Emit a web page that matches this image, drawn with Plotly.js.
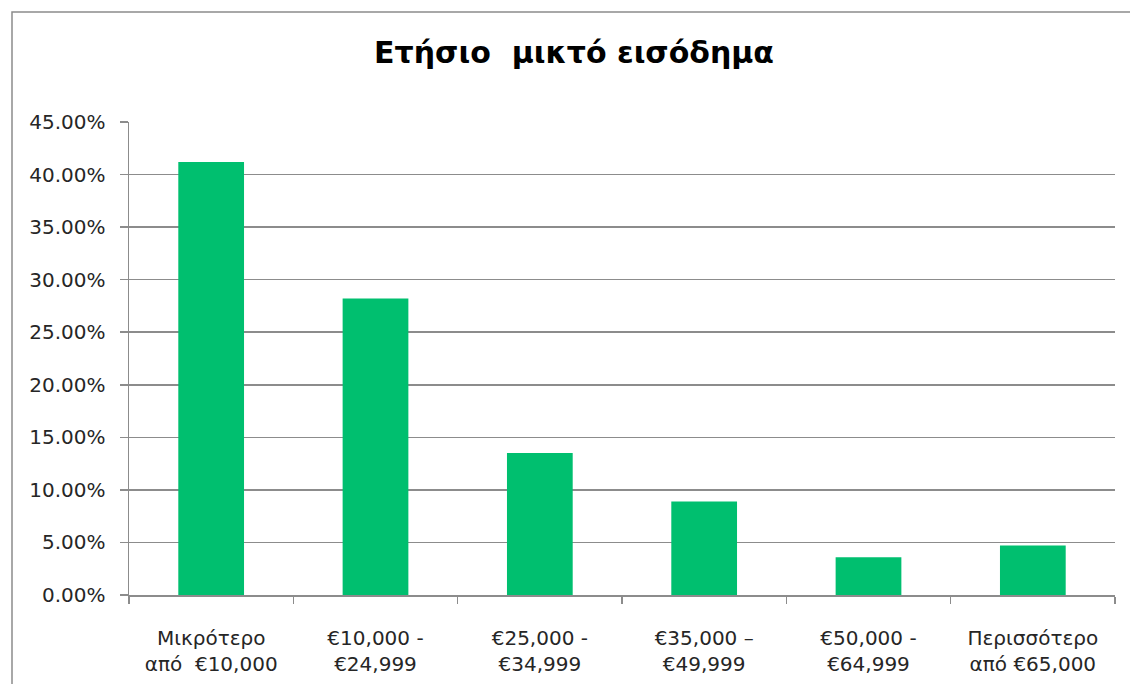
<!DOCTYPE html>
<html>
<head>
<meta charset="utf-8">
<script src="https://cdn.plot.ly/plotly-3.0.1.min.js"></script>
<style>html,body{margin:0;padding:0;background:#fff;}#chart{width:1130px;height:684px;}</style>
</head>
<body>
<div id="chart"></div>
<script>
const categories = [
  "Μικρότερο<br>από  €10,000",
  "€10,000 -<br>€24,999",
  "€25,000 -<br>€34,999",
  "€35,000 –<br>€49,999",
  "€50,000 -<br>€64,999",
  "Περισσότερο<br>από €65,000"
];
const shares = [0.412, 0.282, 0.135, 0.089, 0.036, 0.047];
const yTicks = [0, 0.05, 0.10, 0.15, 0.20, 0.25, 0.30, 0.35, 0.40, 0.45];

const W = 1130, H = 684;
const M = {l: 129, r: 15, t: 122, b: 89};
const pw = W - M.l - M.r, ph = H - M.t - M.b;
// frame border at 12px from left/top
const fx = (12 - M.l) / pw;
const fy = (H - M.b - 12) / ph;

const font = "'DejaVu Sans', 'Open Sans', sans-serif";

Plotly.newPlot('chart', [{
  type: 'bar',
  x: categories,
  y: shares,
  width: 0.4,
  marker: {color: '#00BF6F', line: {width: 0}},
  hoverinfo: 'none'
}], {
  width: W, height: H,
  margin: M,
  paper_bgcolor: '#fff',
  plot_bgcolor: '#fff',
  showlegend: false,
  title: {
    text: '<b>Ετήσιο  μικτό εισόδημα</b>',
    font: {family: font, size: 30, color: '#000'},
    x: 0.508, xanchor: 'center',
    y: 1 - 52 / H, yanchor: 'middle'
  },
  xaxis: {
    type: 'category',
    tickson: 'boundaries',
    ticks: 'outside', ticklen: 7, tickcolor: '#8c8c8c', tickwidth: 1.5,
    showline: true, linecolor: '#8c8c8c', linewidth: 1.5,
    showgrid: false,
    tickfont: {family: font, size: 20, color: '#262626'},
    ticklabelstandoff: 24,
    fixedrange: true
  },
  yaxis: {
    range: [0, 0.45],
    tickvals: yTicks,
    tickformat: '.2%',
    ticks: 'outside', ticklen: 8, tickcolor: '#8c8c8c', tickwidth: 1.5,
    showline: true, linecolor: '#8c8c8c', linewidth: 1.5,
    showgrid: true, gridcolor: '#8c8c8c', gridwidth: 1.5,
    zeroline: false,
    tickfont: {family: font, size: 20, color: '#262626'},
    ticklabelstandoff: 10,
    fixedrange: true
  },
  shapes: [{
    type: 'path', xref: 'paper', yref: 'paper',
    path: `M ${fx} -0.5 L ${fx} ${fy} L 1.5 ${fy}`,
    line: {color: '#8c8c8c', width: 1.5}
  }],
  bargap: 0.6
}, {displayModeBar: false, staticPlot: true});
</script>
</body>
</html>
